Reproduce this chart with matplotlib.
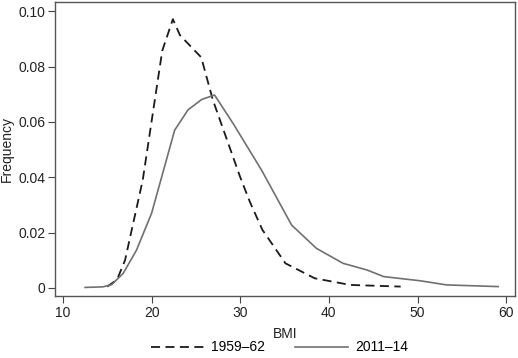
import matplotlib.pyplot as plt

plt.rcParams['font.family'] = ['Liberation Sans', 'DejaVu Sans']

# 1959-62 frequency polygon
bmi_1959 = [15.0, 16.1, 17.0, 19.0, 21.2, 22.4, 23.2, 25.6, 26.9, 30.0, 31.1, 32.5, 35.1, 38.4, 42.4, 48.1]
freq_1959 = [0.0005, 0.003, 0.010, 0.039, 0.0857, 0.0971, 0.0913, 0.0833, 0.068, 0.040, 0.031, 0.021, 0.0089, 0.0035, 0.0011, 0.0005]

# 2011-14 frequency polygon
bmi_2011 = [12.5, 14.5, 15.5, 16.8, 18.3, 20.0, 22.6, 24.1, 25.65, 27.1, 29.2, 32.4, 35.8, 38.6, 41.6, 44.3, 46.2, 50.3, 53.3, 59.1]
freq_2011 = [0.0002, 0.0004, 0.0012, 0.0053, 0.0137, 0.027, 0.057, 0.0643, 0.0681, 0.0697, 0.0594, 0.0426, 0.0227, 0.0143, 0.0089, 0.0065, 0.0041, 0.0026, 0.0011, 0.0005]

xticks = [10, 20, 30, 40, 50, 60]
yticks = [0, 0.02, 0.04, 0.06, 0.08, 0.10]
ytick_labels = ['0', '0.02', '0.04', '0.06', '0.08', '0.10']

fig = plt.figure(figsize=(5.18, 3.58), dpi=100)
ax = fig.add_axes([55 / 518, 62 / 358, 460 / 518, 294 / 358])

ax.plot(bmi_1959, freq_1959, color='#1a1a1a', lw=1.3, ls=(0, (5, 3)), label='1959–62')
ax.plot(bmi_2011, freq_2011, color='#707070', lw=1.2, label='2011–14')

ax.set_xlim(9.1, 61.0)
ax.set_ylim(-0.0029, 0.1033)
ax.set_xticks(xticks)
ax.set_yticks(yticks)
ax.set_yticklabels(ytick_labels)
ax.tick_params(direction='out', length=5, width=0.8, color='#444444', labelsize=10,
               labelcolor='#222222', pad=2)
for s in ax.spines.values():
    s.set_color('#555555')
    s.set_linewidth(1.0)

ax.set_xlabel('BMI', fontsize=10, color='#222222', labelpad=5)
ax.set_ylabel('Frequency', fontsize=10, color='#222222', labelpad=3)

fig.legend(loc='lower center', bbox_to_anchor=(0.54, -0.025), ncol=2, frameon=False,
           fontsize=10, handlelength=3.8, columnspacing=2.2, handletextpad=0.5)

fig.savefig('out.png', dpi=100)
